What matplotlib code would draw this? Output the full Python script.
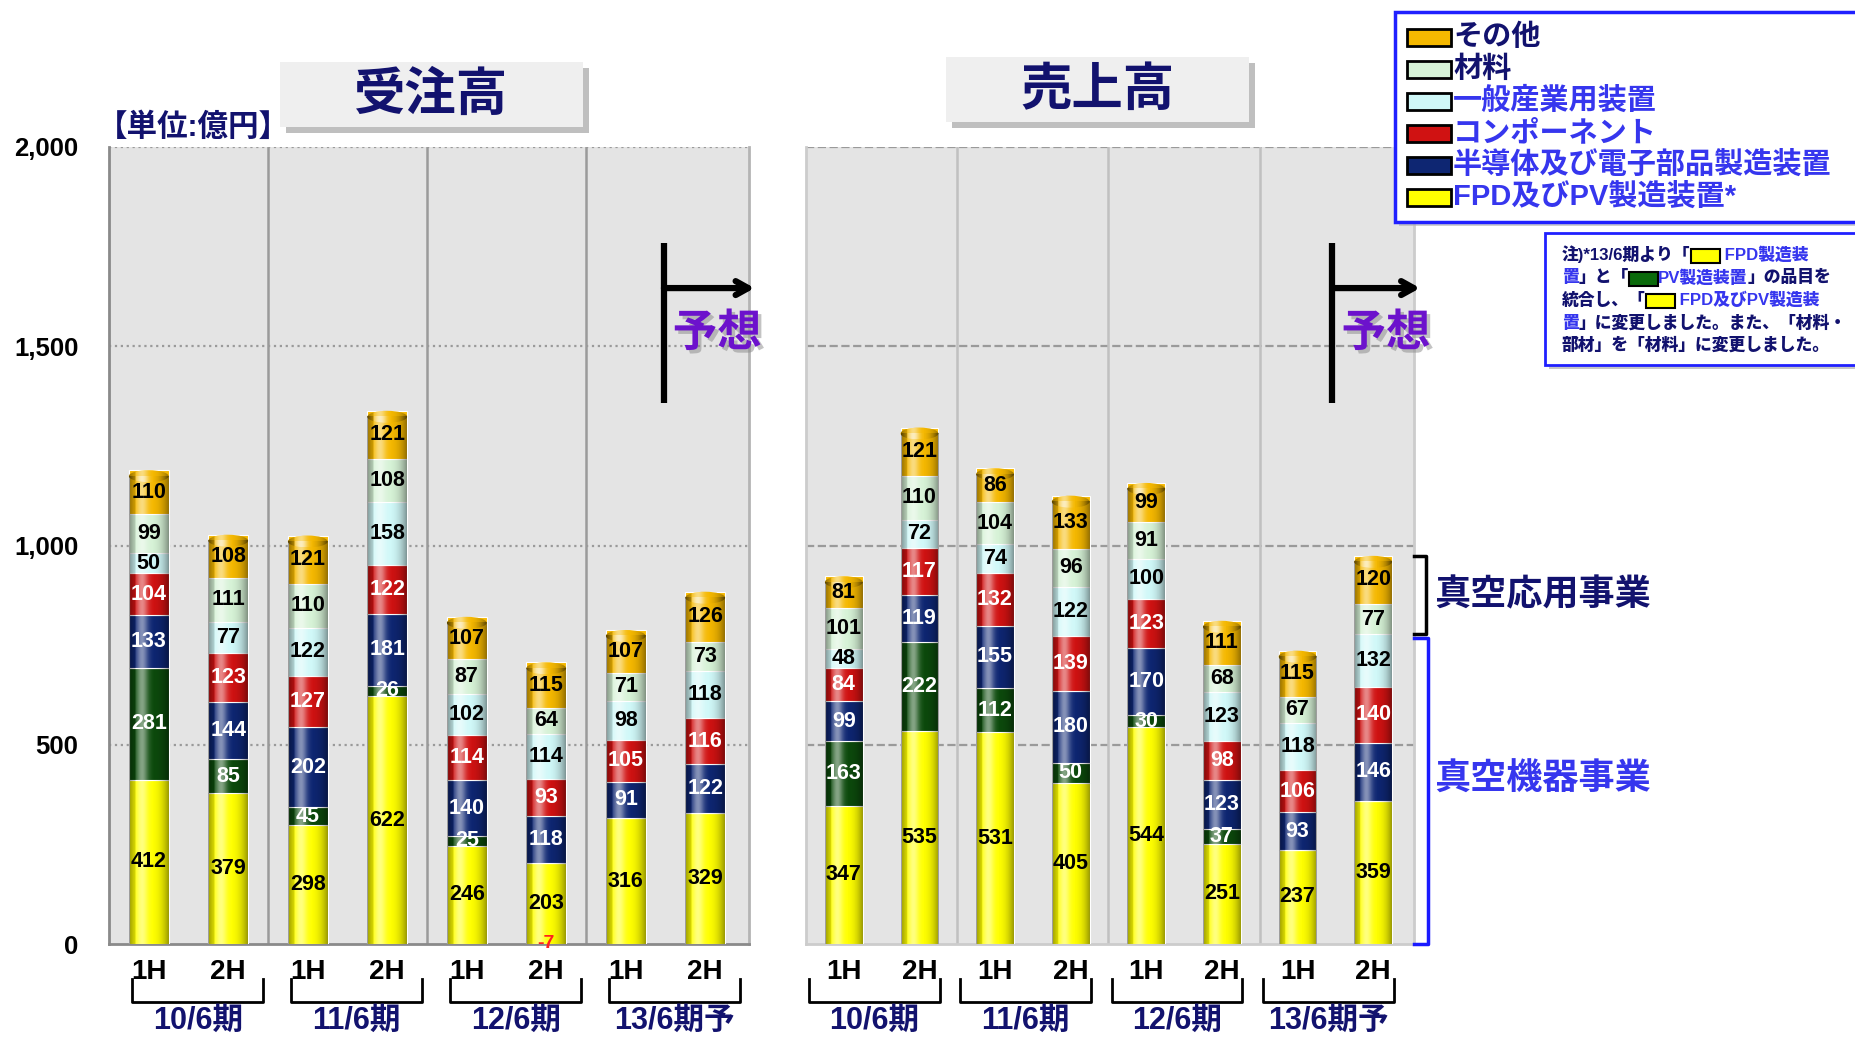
import numpy as np
import matplotlib
matplotlib.use('Agg')
import matplotlib.pyplot as plt
from matplotlib.patches import Rectangle, Ellipse
import matplotlib.patheffects as pe
from matplotlib.transforms import blended_transform_factory

plt.rcParams['font.family'] = ['Liberation Sans', 'Noto Sans CJK JP']
plt.rcParams['font.weight'] = 'bold'

# ---------------- data ----------------
periods = ['10/6期', '11/6期', '12/6期', '13/6期予']
halves = ['1H', '2H']
yticks = [0, 500, 1000, 1500, 2000]
ytick_labels = ['0', '500', '1,000', '1,500', '2,000']
legend_labels = ['その他', '材料', '一般産業用装置', 'コンポーネント',
                 '半導体及び電子部品製造装置', 'FPD及びPV製造装置*']

# 受注高 (orders), bottom to top series
orders_fpd = [412, 379, 298, 622, 246, 203, 316, 329]
orders_pv = [281, 85, 45, 26, 25, -7, 0, 0]
orders_semi = [133, 144, 202, 181, 140, 118, 91, 122]
orders_comp = [104, 123, 127, 122, 114, 93, 105, 116]
orders_gen = [50, 77, 122, 158, 102, 114, 98, 118]
orders_mat = [99, 111, 110, 108, 87, 64, 71, 73]
orders_oth = [110, 108, 121, 121, 107, 115, 107, 126]

# 売上高 (sales)
sales_fpd = [347, 535, 531, 405, 544, 251, 237, 359]
sales_pv = [163, 222, 112, 50, 30, 37, 0, 0]
sales_semi = [99, 119, 155, 180, 170, 123, 93, 146]
sales_comp = [84, 117, 132, 139, 123, 98, 106, 140]
sales_gen = [48, 72, 74, 122, 100, 123, 118, 132]
sales_mat = [101, 110, 104, 96, 91, 68, 67, 77]
sales_oth = [81, 121, 86, 133, 99, 111, 115, 120]

# ---------------- style ----------------
C_FPD, C_PV, C_SEMI, C_COMP, C_GEN, C_MAT, C_OTH = (
    '#ffff00', '#0c4a0c', '#0e2672', '#d01212', '#d0f8f8', '#d6f2d6', '#f5b800')
seg_colors = [C_FPD, C_PV, C_SEMI, C_COMP, C_GEN, C_MAT, C_OTH]
seg_text = ['black', 'white', 'white', 'white', 'black', 'black', 'black']
legend_colors = [C_OTH, C_MAT, C_GEN, C_COMP, C_SEMI, C_FPD]
NAVY = '#12126e'
BLUE = '#3636ee'
legend_text_colors = [NAVY, NAVY, BLUE, BLUE, BLUE, BLUE]

W, H = 1855, 1037
fig = plt.figure(figsize=(W / 100, H / 100), dpi=100)


def frect(x0, y0, x1, y1):
    return [x0 / W, 1 - y1 / H, (x1 - x0) / W, (y1 - y0) / H]


axL = fig.add_axes(frect(109, 147, 749, 944))
axR = fig.add_axes(frect(806, 147, 1414, 944))
ov = fig.add_axes([0, 0, 1, 1], zorder=10)
ov.set_xlim(0, W)
ov.set_ylim(H, 0)
ov.axis('off')

# cylinder shading
N = 80
t = np.linspace(-1, 1, N)
a_d = 0.40 * np.abs(t) ** 2.5
a_h = 0.50 * np.exp(-((t + 0.35) / 0.30) ** 2)
shade = np.zeros((1, N, 4))
hl = a_h > a_d
shade[0, hl, :3] = 1.0
shade[0, :, 3] = np.maximum(a_h, a_d)

bw = 0.5
cap_h = 30


def panel(ax, stacks, grid_ls, sep_col, spine_cols, xr):
    x = np.arange(len(stacks[0]))
    ax.set_facecolor('#e4e4e4')
    for yv in yticks[1:]:
        ax.axhline(yv, color='#9a9a9a', ls=grid_ls, lw=1.6, zorder=1)
    for sx in [1.5, 3.5, 5.5]:
        ax.axvline(sx, color=sep_col, lw=1.8, zorder=1)
    bottom = np.zeros(len(x))
    top_col = [None] * len(x)
    for vals, col, tc in zip(stacks, seg_colors, seg_text):
        v = np.asarray(vals, float)
        pos = np.clip(v, 0, None)
        neg = np.clip(v, None, 0)
        ax.bar(x, pos, width=bw, bottom=bottom, color=col, edgecolor='white',
               linewidth=0.8, zorder=3)
        ax.bar(x, neg, width=bw, bottom=0, color=col, zorder=3)
        for i in range(len(x)):
            if v[i] > 0:
                ax.text(x[i], bottom[i] + v[i] / 2, f'{int(v[i])}', ha='center',
                        va='center', color=tc, fontsize=15.5, fontweight='bold', zorder=6)
                top_col[i] = col
            elif v[i] < 0:
                ax.text(x[i], 0, f'{int(v[i])}', ha='center', va='center',
                        color='#ff2020', fontsize=14, fontweight='bold', zorder=6)
        bottom += pos
    for i in range(len(x)):
        ctop = bottom[i] - cap_h / 2
        ax.imshow(shade, extent=(x[i] - bw / 2, x[i] + bw / 2, 0, ctop),
                  aspect='auto', zorder=4, interpolation='bilinear')
        cap = Ellipse((x[i], ctop), bw, cap_h, fc=top_col[i], ec='none', zorder=3)
        ax.add_patch(cap)
        im = ax.imshow(shade, extent=(x[i] - bw / 2, x[i] + bw / 2,
                                      ctop - cap_h / 2, ctop + cap_h / 2),
                       aspect='auto', zorder=4, interpolation='bilinear')
        im.set_clip_path(cap)
    ax.set_xlim(-0.5, xr)
    ax.set_ylim(0, 2000)
    ax.set_xticks(x, [halves[i % 2] for i in range(len(x))])
    ax.tick_params(axis='x', length=0, pad=11, labelsize=20)
    for k, s in zip(['left', 'bottom', 'right'], spine_cols):
        ax.spines[k].set_color(s)
        ax.spines[k].set_linewidth(2)
    ax.spines['top'].set_visible(False)
    return bottom


orders = [orders_fpd, orders_pv, orders_semi, orders_comp, orders_gen, orders_mat, orders_oth]
sales = [sales_fpd, sales_pv, sales_semi, sales_comp, sales_gen, sales_mat, sales_oth]

panel(axL, orders, ':', '#9a9a9a', ['#8a8a8a', '#8a8a8a', '#b4b4b4'], 7.55)
tot_s = panel(axR, sales, '--', '#c0c0c0', ['#cccccc', '#cccccc', '#cccccc'], 7.54)

axL.set_yticks(yticks, ytick_labels)
axL.tick_params(axis='y', length=0, pad=22, labelsize=18.5)
axR.set_yticks([])

# group brackets and period labels
for ax, (o0, o1) in [(axL, (-0.21, 0.44)), (axR, (-0.46, 0.27))]:
    tr = blended_transform_factory(ax.transData, ov.transData)
    for g, p in enumerate(periods):
        x0, x1 = 2 * g + o0, 2 * g + 1 + o1
        ov.plot([x0, x0, x1, x1], [979, 1002, 1002, 979], color='black', lw=2,
                transform=tr, clip_on=False, solid_joinstyle='round')
        ov.text((x0 + x1) / 2, 1021, p, transform=tr, ha='center', va='center',
                fontsize=22, color=NAVY, fontweight='bold')

# forecast arrows
for ax, xl, xe, xt in [(axL, 6.48, 7.62, 7.15), (axR, 6.46, 7.62, 7.17)]:
    ax.plot([xl, xl], [1358, 1759], color='black', lw=4.5, clip_on=False, zorder=7,
            solid_capstyle='butt')
    ax.annotate('', xy=(xe, 1646), xytext=(xl, 1646), annotation_clip=False,
                arrowprops=dict(arrowstyle='->,head_length=0.9,head_width=0.5',
                                lw=4.5, color='black', shrinkA=0, shrinkB=0), zorder=7)
    ax.text(xt, 1530, '予想', ha='center', va='center', fontsize=32, color='#6c12cc',
            fontweight='bold', zorder=8, clip_on=False,
            path_effects=[pe.SimplePatchShadow(offset=(2.5, -2.5), shadow_rgbFace='#888888',
                                               alpha=0.5), pe.Normal()])

# title boxes
for (x0, y0, x1, y1), s in [((280, 62, 583, 127), '受注高'), ((946, 57, 1249, 122), '売上高')]:
    ov.add_patch(Rectangle((x0 + 6, y0 + 6), x1 - x0, y1 - y0, fc='#8c8c8c', ec='none',
                           alpha=0.55))
    ov.add_patch(Rectangle((x0, y0), x1 - x0, y1 - y0, fc='#efefef', ec='none'))
    ov.text((x0 + x1) / 2, (y0 + y1) / 2 + 2, s, ha='center', va='center', fontsize=37,
            color=NAVY, fontweight='bold')

ov.text(97, 128, '【単位:億円】', ha='left', va='center', fontsize=22, color=NAVY,
        fontweight='bold')

# legend
ov.add_patch(Rectangle((1399, 16), 470, 210, fc='#b0b0b0', ec='none', alpha=0.6,
                       clip_on=False))
ov.add_patch(Rectangle((1395, 12), 470, 210, fc='white', ec='#2020ff', lw=2.5,
                       clip_on=False))
for k, (lab, col, tcol) in enumerate(zip(legend_labels, legend_colors, legend_text_colors)):
    yc = 37 + k * 32
    ov.add_patch(Rectangle((1407, yc - 8), 44, 17, fc=col, ec='black', lw=2))
    ov.text(1453, yc, lab, ha='left', va='center', fontsize=21, color=tcol,
            fontweight='bold')

# note box
ov.add_patch(Rectangle((1549, 237), 320, 132, fc='#a0a0a0', ec='none', alpha=0.6,
                       clip_on=False))
ov.add_patch(Rectangle((1545, 233), 320, 132, fc='white', ec='#2020ff', lw=2,
                       clip_on=False))
SWY = ('SW', C_FPD)
SWG = ('SW', '#0a6a0a')
note_lines = [
    [('注)*13/6期より「', NAVY), SWY, (' FPD製造装', BLUE)],
    [('置', BLUE), ('」と「', NAVY), SWG, ('PV製造装置', BLUE), ('」の品目を', NAVY)],
    [('統合し、「', NAVY), SWY, (' FPD及びPV製造装', BLUE)],
    [('置', BLUE), ('」に変更しました。また、「材料・', NAVY)],
    [('部材」を「材料」に変更しました。', NAVY)],
]
for k, parts in enumerate(note_lines):
    yc = 255 + k * 22.5
    prev = None
    for s, c in parts:
        kw = dict(fontsize=12.1, fontweight='heavy', ha='left', va='bottom')
        if s == 'SW':
            s = '\u3000\u3000'
            kw['bbox'] = dict(boxstyle='square,pad=0.0', fc=c, ec='black', lw=1.5)
            kw['fontsize'] = 10.5
            c = 'black'
        if prev is None:
            prev = ov.text(1562, yc + 8, s, color=c, **kw)
        else:
            prev = ov.annotate(s, xy=(1, 0), xycoords=prev, color=c,
                               annotation_clip=False, **kw)

# segment braces on right
tr = blended_transform_factory(ov.transData, axR.transData)
split = tot_s[-1] - sales_oth[-1] - sales_mat[-1]
ov.plot([1414, 1426, 1426, 1414], [tot_s[-1], tot_s[-1], split, split], color='black',
        lw=2.5, transform=tr, clip_on=False, solid_joinstyle='round')
ov.plot([1414, 1428, 1428, 1414], [split - 10, split - 10, 0, 0], color='#1a1aff',
        lw=2.5, transform=tr, clip_on=False, solid_joinstyle='round')
ov.text(1434, 596, '真空応用事業', ha='left', va='center', fontsize=26, color=NAVY,
        fontweight='bold')
ov.text(1434, 780, '真空機器事業', ha='left', va='center', fontsize=26, color=BLUE,
        fontweight='bold')

fig.savefig('out.png', dpi=100)
